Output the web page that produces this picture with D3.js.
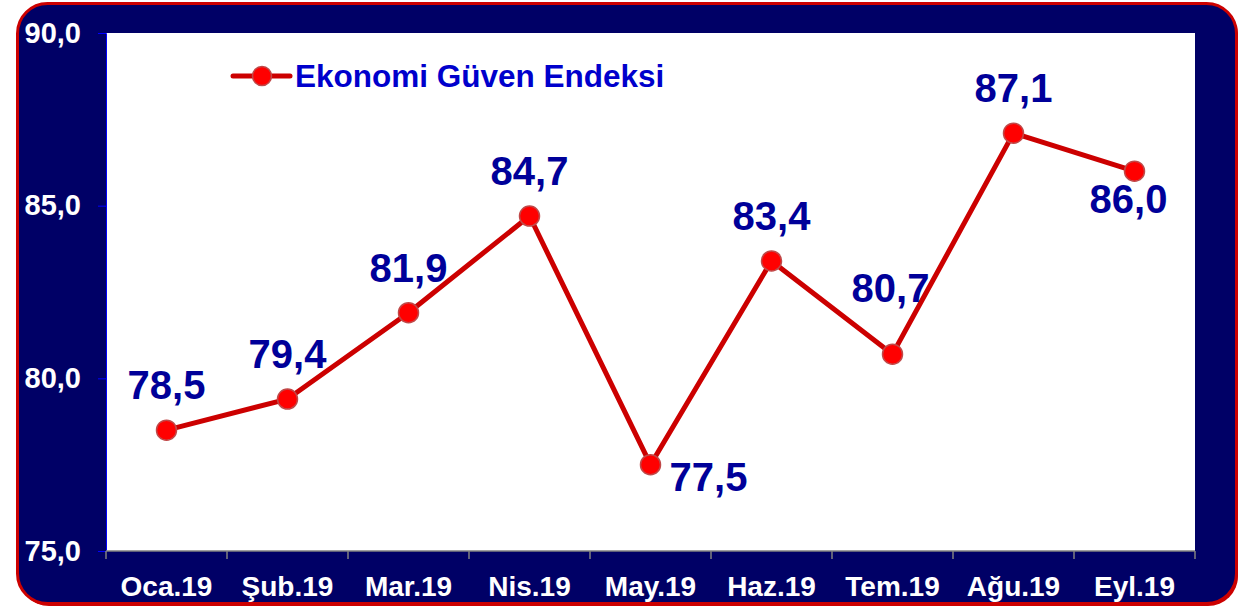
<!DOCTYPE html>
<html>
<head>
<meta charset="utf-8">
<script src="https://cdn.jsdelivr.net/npm/d3@7"></script>
<style>
  body { margin: 0; background: #fff; }
  svg text { font-family: "Liberation Sans", Arial, sans-serif; font-weight: bold; }
</style>
</head>
<body>
<script>
var months = ['Oca.19', 'Şub.19', 'Mar.19', 'Nis.19', 'May.19', 'Haz.19', 'Tem.19', 'Ağu.19', 'Eyl.19'];
var values = [78.5, 79.4, 81.9, 84.7, 77.5, 83.4, 80.7, 87.1, 86.0];
var yTicks = [75, 80, 85, 90];
var seriesName = 'Ekonomi Güven Endeksi';
// where each value label sits relative to its point
var labelSide = ['above', 'above', 'above', 'above', 'right', 'above', 'high', 'above', 'below'];

var width = 1240,
    height = 607;

var plot = { left: 106, top: 33, right: 1195, bottom: 551 };

var fmt = function(v) { return d3.format('.1f')(v).replace('.', ','); };

var svg = d3.select('body')
    .append('svg')
    .attr('width', width)
    .attr('height', height);

// frame: red rounded border with navy fill
svg.append('rect')
    .attr('x', 19).attr('y', 5)
    .attr('width', 1219).attr('height', 601)
    .attr('rx', 30)
    .style('fill', '#cc0000');

svg.append('rect')
    .attr('x', 17.5).attr('y', 3.5)
    .attr('width', 1219).attr('height', 600)
    .attr('rx', 30)
    .style('fill', '#000066')
    .style('stroke', '#cc0000')
    .style('stroke-width', 3);

svg.append('rect')
    .attr('x', plot.left).attr('y', plot.top)
    .attr('width', plot.right - plot.left)
    .attr('height', plot.bottom - plot.top)
    .style('fill', '#fff');

var x = d3.scaleBand()
    .domain(months)
    .range([plot.left, plot.right]);

var y = d3.scaleLinear()
    .domain([75, 90])
    .range([plot.bottom, plot.top]);

// y axis
var yAxis = svg.append('g')
    .attr('transform', 'translate(' + plot.left + ',0)')
    .call(d3.axisLeft(y).tickValues(yTicks).tickSize(8).tickFormat(fmt));
yAxis.select('.domain').style('stroke', '#0000ff');
yAxis.selectAll('.tick line').style('stroke', '#0000ff');
yAxis.selectAll('.tick text')
    .attr('x', -25)
    .style('fill', '#fff')
    .style('font-size', '29px');

// x axis, ticks at category boundaries
var xAxis = svg.append('g')
    .attr('transform', 'translate(0,' + plot.bottom + ')');
xAxis.append('line')
    .attr('x1', plot.left).attr('x2', plot.right)
    .style('stroke', '#808080').style('stroke-width', 1.5);
xAxis.selectAll('.sep')
    .data(months.concat(['end'])).enter()
    .append('line')
    .attr('class', 'sep')
    .attr('x1', (d, i) => i < months.length ? x(d) : plot.right)
    .attr('x2', (d, i) => i < months.length ? x(d) : plot.right)
    .attr('y1', 0).attr('y2', 8)
    .style('stroke', '#808080').style('stroke-width', 1.5);
xAxis.selectAll('.lbl')
    .data(months).enter()
    .append('text')
    .attr('class', 'lbl')
    .attr('x', d => x(d) + x.bandwidth() / 2)
    .attr('y', 45)
    .attr('text-anchor', 'middle')
    .style('fill', '#fff')
    .style('font-size', '28px')
    .text(d => d);

var cx = (d, i) => x(months[i]) + x.bandwidth() / 2;

var line = d3.line()
    .x(cx)
    .y(d => y(d));

svg.append('path')
    .datum(values)
    .attr('d', line)
    .style('fill', 'none')
    .style('stroke', '#cc0000')
    .style('stroke-width', 5)
    .style('stroke-linejoin', 'round');

svg.selectAll('.dot')
    .data(values).enter()
    .append('circle')
    .attr('class', 'dot')
    .attr('cx', cx)
    .attr('cy', d => y(d))
    .attr('r', 10)
    .style('fill', '#ff0000')
    .style('stroke', '#c04848')
    .style('stroke-width', 1.5);

var offsets = {
    above: [0, -31],
    high: [-2, -52],
    below: [-6, 42],
    right: [58, 26]
};

svg.selectAll('.val')
    .data(values).enter()
    .append('text')
    .attr('class', 'val')
    .attr('x', (d, i) => cx(d, i) + offsets[labelSide[i]][0])
    .attr('y', (d, i) => y(d) + offsets[labelSide[i]][1])
    .attr('text-anchor', 'middle')
    .style('fill', '#000099')
    .style('font-size', '40px')
    .text(fmt);

// legend
var legend = svg.append('g')
    .attr('transform', 'translate(233,76)');
legend.append('line')
    .attr('x1', 0).attr('x2', 57)
    .style('stroke', '#cc0000')
    .style('stroke-width', 5)
    .style('stroke-linecap', 'round');
legend.append('circle')
    .attr('cx', 29).attr('r', 9.5)
    .style('fill', '#ff0000')
    .style('stroke', '#c04848')
    .style('stroke-width', 1.5);
legend.append('text')
    .attr('x', 62).attr('y', 11)
    .style('fill', '#0000cc')
    .style('font-size', '31.5px')
    .text(seriesName);
</script>
</body>
</html>
